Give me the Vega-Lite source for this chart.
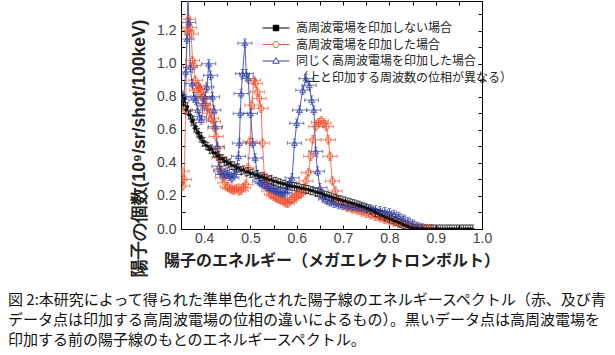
{
"$schema": "https://vega.github.io/schema/vega-lite/v6.json",
"width": 301, "height": 228,
"autosize": {"type": "none"},
"padding": {"left": 181, "top": 1, "right": 133, "bottom": 126},
"config": {"view": {"stroke": "#000", "strokeWidth": 1}, "font": "Liberation Sans"},
"title": {"text": ["図 2:本研究によって得られた準単色化された陽子線のエネルギースペクトル（赤、及び青", "データ点は印加する高周波電場の位相の違いによるもの）。黒いデータ点は高周波電場を", "印加する前の陽子線のもとのエネルギースペクトル。"], "orient": "bottom", "anchor": "start", "frame": "group", "dx": -173, "offset": 16, "font": "Noto Sans CJK JP", "fontSize": 15, "fontWeight": "normal", "color": "#111", "lineHeight": 20, "baseline": "top"},
"data": {"values": [
{"s":"r","x":0.352,"y":0.35},{"s":"r","x":0.354,"y":0.26},{"s":"r","x":0.357,"y":0.30},{"s":"r","x":0.360,"y":0.72},{"s":"r","x":0.363,"y":1.20},{"s":"r","x":0.366,"y":1.27},{"s":"r","x":0.369,"y":1.22},{"s":"r","x":0.372,"y":1.18},{"s":"r","x":0.375,"y":1.02},{"s":"r","x":0.378,"y":0.99},{"s":"r","x":0.381,"y":0.90},{"s":"r","x":0.384,"y":0.84},{"s":"r","x":0.387,"y":0.87},{"s":"r","x":0.390,"y":0.85},{"s":"r","x":0.393,"y":0.83},{"s":"r","x":0.396,"y":0.80},{"s":"r","x":0.400,"y":0.79},{"s":"r","x":0.404,"y":0.75},{"s":"r","x":0.408,"y":0.73},{"s":"r","x":0.412,"y":0.70},{"s":"r","x":0.416,"y":0.67},{"s":"r","x":0.420,"y":0.65},{"s":"r","x":0.423,"y":0.61},{"s":"r","x":0.426,"y":0.56},{"s":"r","x":0.429,"y":0.49},{"s":"r","x":0.432,"y":0.43},{"s":"r","x":0.436,"y":0.36},{"s":"r","x":0.440,"y":0.31},{"s":"r","x":0.445,"y":0.28},{"s":"r","x":0.450,"y":0.255},{"s":"r","x":0.455,"y":0.245},{"s":"r","x":0.460,"y":0.24},{"s":"r","x":0.465,"y":0.235},{"s":"r","x":0.470,"y":0.245},{"s":"r","x":0.475,"y":0.23},{"s":"r","x":0.480,"y":0.235},{"s":"r","x":0.485,"y":0.25},{"s":"r","x":0.490,"y":0.27},{"s":"r","x":0.495,"y":0.37},{"s":"r","x":0.499,"y":0.53},{"s":"r","x":0.503,"y":0.75},{"s":"r","x":0.507,"y":0.90},{"s":"r","x":0.511,"y":0.88},{"s":"r","x":0.515,"y":0.83},{"s":"r","x":0.519,"y":0.79},{"s":"r","x":0.523,"y":0.73},{"s":"r","x":0.526,"y":0.52},{"s":"r","x":0.530,"y":0.32},{"s":"r","x":0.535,"y":0.27},{"s":"r","x":0.540,"y":0.23},{"s":"r","x":0.545,"y":0.21},{"s":"r","x":0.550,"y":0.20},{"s":"r","x":0.555,"y":0.19},{"s":"r","x":0.560,"y":0.185},{"s":"r","x":0.565,"y":0.18},{"s":"r","x":0.570,"y":0.17},{"s":"r","x":0.575,"y":0.16},{"s":"r","x":0.580,"y":0.155},{"s":"r","x":0.585,"y":0.165},{"s":"r","x":0.590,"y":0.18},{"s":"r","x":0.595,"y":0.19},{"s":"r","x":0.600,"y":0.20},{"s":"r","x":0.605,"y":0.21},{"s":"r","x":0.610,"y":0.22},{"s":"r","x":0.615,"y":0.24},{"s":"r","x":0.620,"y":0.29},{"s":"r","x":0.625,"y":0.34},{"s":"r","x":0.630,"y":0.44},{"s":"r","x":0.635,"y":0.54},{"s":"r","x":0.641,"y":0.62},{"s":"r","x":0.647,"y":0.645},{"s":"r","x":0.653,"y":0.655},{"s":"r","x":0.659,"y":0.64},{"s":"r","x":0.664,"y":0.62},{"s":"r","x":0.668,"y":0.54},{"s":"r","x":0.672,"y":0.44},{"s":"r","x":0.677,"y":0.29},{"s":"r","x":0.683,"y":0.23},{"s":"r","x":0.690,"y":0.17},{"s":"r","x":0.700,"y":0.145},{"s":"r","x":0.710,"y":0.13},{"s":"r","x":0.720,"y":0.12},{"s":"r","x":0.730,"y":0.112},{"s":"r","x":0.740,"y":0.104},{"s":"r","x":0.750,"y":0.095},{"s":"r","x":0.760,"y":0.086},{"s":"r","x":0.770,"y":0.077},{"s":"r","x":0.780,"y":0.068},{"s":"r","x":0.790,"y":0.058},{"s":"r","x":0.800,"y":0.05},{"s":"r","x":0.810,"y":0.042},{"s":"r","x":0.820,"y":0.035},{"s":"r","x":0.830,"y":0.028},{"s":"r","x":0.840,"y":0.021},{"s":"r","x":0.850,"y":0.015},{"s":"r","x":0.860,"y":0.01},{"s":"r","x":0.870,"y":0.006},{"s":"r","x":0.880,"y":0.003},{"s":"r","x":0.890,"y":0.001},
{"s":"b","x":0.356,"y":0.80},{"s":"b","x":0.360,"y":0.95},{"s":"b","x":0.363,"y":1.15},{"s":"b","x":0.365,"y":1.45},{"s":"b","x":0.367,"y":1.25},{"s":"b","x":0.370,"y":0.98},{"s":"b","x":0.374,"y":0.88},{"s":"b","x":0.378,"y":0.80},{"s":"b","x":0.382,"y":0.78},{"s":"b","x":0.386,"y":0.72},{"s":"b","x":0.390,"y":0.68},{"s":"b","x":0.394,"y":0.66},{"s":"b","x":0.398,"y":0.76},{"s":"b","x":0.402,"y":0.80},{"s":"b","x":0.406,"y":0.86},{"s":"b","x":0.410,"y":1.00},{"s":"b","x":0.414,"y":0.93},{"s":"b","x":0.418,"y":0.80},{"s":"b","x":0.421,"y":0.72},{"s":"b","x":0.424,"y":0.62},{"s":"b","x":0.428,"y":0.50},{"s":"b","x":0.432,"y":0.38},{"s":"b","x":0.436,"y":0.35},{"s":"b","x":0.440,"y":0.33},{"s":"b","x":0.445,"y":0.34},{"s":"b","x":0.450,"y":0.33},{"s":"b","x":0.455,"y":0.32},{"s":"b","x":0.460,"y":0.31},{"s":"b","x":0.465,"y":0.33},{"s":"b","x":0.470,"y":0.36},{"s":"b","x":0.474,"y":0.44},{"s":"b","x":0.476,"y":0.52},{"s":"b","x":0.478,"y":0.70},{"s":"b","x":0.480,"y":0.82},{"s":"b","x":0.483,"y":0.94},{"s":"b","x":0.488,"y":1.125},{"s":"b","x":0.491,"y":0.94},{"s":"b","x":0.495,"y":0.91},{"s":"b","x":0.500,"y":0.70},{"s":"b","x":0.505,"y":0.52},{"s":"b","x":0.510,"y":0.43},{"s":"b","x":0.515,"y":0.33},{"s":"b","x":0.520,"y":0.29},{"s":"b","x":0.525,"y":0.28},{"s":"b","x":0.530,"y":0.27},{"s":"b","x":0.535,"y":0.26},{"s":"b","x":0.540,"y":0.25},{"s":"b","x":0.545,"y":0.245},{"s":"b","x":0.550,"y":0.24},{"s":"b","x":0.555,"y":0.23},{"s":"b","x":0.560,"y":0.225},{"s":"b","x":0.565,"y":0.22},{"s":"b","x":0.570,"y":0.215},{"s":"b","x":0.575,"y":0.22},{"s":"b","x":0.580,"y":0.25},{"s":"b","x":0.585,"y":0.28},{"s":"b","x":0.590,"y":0.31},{"s":"b","x":0.595,"y":0.52},{"s":"b","x":0.600,"y":0.64},{"s":"b","x":0.606,"y":0.72},{"s":"b","x":0.613,"y":0.84},{"s":"b","x":0.620,"y":0.91},{"s":"b","x":0.627,"y":0.87},{"s":"b","x":0.632,"y":0.78},{"s":"b","x":0.637,"y":0.72},{"s":"b","x":0.641,"y":0.47},{"s":"b","x":0.645,"y":0.35},{"s":"b","x":0.650,"y":0.25},{"s":"b","x":0.656,"y":0.20},{"s":"b","x":0.662,"y":0.18},{"s":"b","x":0.670,"y":0.165},{"s":"b","x":0.680,"y":0.155},{"s":"b","x":0.690,"y":0.148},{"s":"b","x":0.700,"y":0.143},{"s":"b","x":0.710,"y":0.139},{"s":"b","x":0.720,"y":0.135},{"s":"b","x":0.730,"y":0.131},{"s":"b","x":0.740,"y":0.128},{"s":"b","x":0.750,"y":0.125},{"s":"b","x":0.760,"y":0.121},{"s":"b","x":0.770,"y":0.116},{"s":"b","x":0.780,"y":0.111},{"s":"b","x":0.790,"y":0.105},{"s":"b","x":0.800,"y":0.098},{"s":"b","x":0.810,"y":0.088},{"s":"b","x":0.820,"y":0.075},{"s":"b","x":0.830,"y":0.06},{"s":"b","x":0.840,"y":0.045},{"s":"b","x":0.850,"y":0.03},{"s":"b","x":0.860,"y":0.016},{"s":"b","x":0.870,"y":0.006},
{"s":"k","x":0.352,"y":0.81},{"s":"k","x":0.355,"y":0.75},{"s":"k","x":0.358,"y":0.79},{"s":"k","x":0.361,"y":0.72},{"s":"k","x":0.364,"y":0.74},{"s":"k","x":0.367,"y":0.69},{"s":"k","x":0.370,"y":0.69},{"s":"k","x":0.373,"y":0.65},{"s":"k","x":0.376,"y":0.66},{"s":"k","x":0.379,"y":0.61},{"s":"k","x":0.382,"y":0.62},{"s":"k","x":0.385,"y":0.58},{"s":"k","x":0.388,"y":0.585},{"s":"k","x":0.391,"y":0.55},{"s":"k","x":0.394,"y":0.56},{"s":"k","x":0.397,"y":0.525},{"s":"k","x":0.400,"y":0.53},{"s":"k","x":0.404,"y":0.505},{"s":"k","x":0.408,"y":0.50},{"s":"k","x":0.412,"y":0.48},{"s":"k","x":0.416,"y":0.485},{"s":"k","x":0.420,"y":0.46},{"s":"k","x":0.424,"y":0.46},{"s":"k","x":0.428,"y":0.44},{"s":"k","x":0.432,"y":0.445},{"s":"k","x":0.436,"y":0.425},{"s":"k","x":0.440,"y":0.425},{"s":"k","x":0.444,"y":0.41},{"s":"k","x":0.448,"y":0.41},{"s":"k","x":0.452,"y":0.395},{"s":"k","x":0.456,"y":0.40},{"s":"k","x":0.460,"y":0.385},{"s":"k","x":0.465,"y":0.382},{"s":"k","x":0.470,"y":0.37},{"s":"k","x":0.475,"y":0.37},{"s":"k","x":0.480,"y":0.355},{"s":"k","x":0.485,"y":0.358},{"s":"k","x":0.490,"y":0.345},{"s":"k","x":0.495,"y":0.347},{"s":"k","x":0.500,"y":0.336},{"s":"k","x":0.505,"y":0.338},{"s":"k","x":0.510,"y":0.326},{"s":"k","x":0.515,"y":0.327},{"s":"k","x":0.520,"y":0.316},{"s":"k","x":0.525,"y":0.317},{"s":"k","x":0.530,"y":0.307},{"s":"k","x":0.535,"y":0.308},{"s":"k","x":0.540,"y":0.298},{"s":"k","x":0.545,"y":0.298},{"s":"k","x":0.550,"y":0.288},{"s":"k","x":0.555,"y":0.289},{"s":"k","x":0.560,"y":0.28},{"s":"k","x":0.565,"y":0.279},{"s":"k","x":0.570,"y":0.272},{"s":"k","x":0.575,"y":0.271},{"s":"k","x":0.580,"y":0.263},{"s":"k","x":0.585,"y":0.264},{"s":"k","x":0.590,"y":0.258},{"s":"k","x":0.595,"y":0.258},{"s":"k","x":0.600,"y":0.253},{"s":"k","x":0.605,"y":0.252},{"s":"k","x":0.610,"y":0.246},{"s":"k","x":0.615,"y":0.246},{"s":"k","x":0.620,"y":0.24},{"s":"k","x":0.625,"y":0.239},{"s":"k","x":0.630,"y":0.232},{"s":"k","x":0.635,"y":0.231},{"s":"k","x":0.640,"y":0.224},{"s":"k","x":0.645,"y":0.222},{"s":"k","x":0.650,"y":0.216},{"s":"k","x":0.655,"y":0.214},{"s":"k","x":0.660,"y":0.206},{"s":"k","x":0.665,"y":0.204},{"s":"k","x":0.670,"y":0.197},{"s":"k","x":0.675,"y":0.194},{"s":"k","x":0.680,"y":0.188},{"s":"k","x":0.685,"y":0.186},{"s":"k","x":0.690,"y":0.179},{"s":"k","x":0.695,"y":0.177},{"s":"k","x":0.700,"y":0.171},{"s":"k","x":0.705,"y":0.169},{"s":"k","x":0.710,"y":0.163},{"s":"k","x":0.715,"y":0.161},{"s":"k","x":0.720,"y":0.155},{"s":"k","x":0.725,"y":0.152},{"s":"k","x":0.730,"y":0.146},{"s":"k","x":0.735,"y":0.144},{"s":"k","x":0.740,"y":0.138},{"s":"k","x":0.745,"y":0.134},{"s":"k","x":0.750,"y":0.127},{"s":"k","x":0.755,"y":0.122},{"s":"k","x":0.760,"y":0.114},{"s":"k","x":0.765,"y":0.109},{"s":"k","x":0.770,"y":0.1},{"s":"k","x":0.775,"y":0.094},{"s":"k","x":0.780,"y":0.085},{"s":"k","x":0.785,"y":0.08},{"s":"k","x":0.790,"y":0.072},{"s":"k","x":0.795,"y":0.068},{"s":"k","x":0.800,"y":0.061},{"s":"k","x":0.805,"y":0.057},{"s":"k","x":0.810,"y":0.049},{"s":"k","x":0.815,"y":0.046},{"s":"k","x":0.820,"y":0.039},{"s":"k","x":0.825,"y":0.034},{"s":"k","x":0.830,"y":0.025},{"s":"k","x":0.835,"y":0.02},{"s":"k","x":0.840,"y":0.013},{"s":"k","x":0.845,"y":0.009},{"s":"k","x":0.850,"y":0.005},{"s":"k","x":0.855,"y":0.003},{"s":"k","x":0.860,"y":0.001},{"s":"k","x":0.865,"y":0},{"s":"k","x":0.870,"y":0},{"s":"k","x":0.875,"y":0},{"s":"k","x":0.880,"y":0},{"s":"k","x":0.885,"y":0},{"s":"k","x":0.890,"y":0},{"s":"k","x":0.895,"y":0},{"s":"k","x":0.900,"y":0},{"s":"k","x":0.905,"y":0},{"s":"k","x":0.910,"y":0},{"s":"k","x":0.915,"y":0},{"s":"k","x":0.920,"y":0},{"s":"k","x":0.925,"y":0},{"s":"k","x":0.930,"y":0},{"s":"k","x":0.935,"y":0},{"s":"k","x":0.940,"y":0},{"s":"k","x":0.945,"y":0},{"s":"k","x":0.950,"y":0},{"s":"k","x":0.955,"y":0},{"s":"k","x":0.960,"y":0},{"s":"k","x":0.965,"y":0},{"s":"k","x":0.970,"y":0},{"s":"k","x":0.975,"y":0},{"s":"k","x":0.980,"y":0}
]},
"layer": [
{"mark": {"type": "line", "strokeWidth": 1, "clip": true},
 "encoding": {
  "x": {"field": "x", "type": "quantitative", "scale": {"domain": [0.35, 1.0], "nice": false, "zero": false},
   "axis": {"orient": "bottom", "values": [0.35,0.4,0.45,0.5,0.55,0.6,0.65,0.7,0.75,0.8,0.85,0.9,0.95,1.0], "labelExpr": "round(datum.value*20) % 2 == 0 ? format(datum.value, '.1f') : ''", "tickSize": -4, "tickColor": "#000", "domain": false, "grid": false, "labelFont": "Liberation Sans", "labelFontSize": 14, "labelColor": "#444", "labelPadding": 6, "labelFlush": false, "labelOverlap": false, "title": "陽子のエネルギー（メガエレクトロンボルト）", "titleFont": "Noto Sans CJK JP", "titleFontSize": 16, "titleFontWeight": "bold", "titleColor": "#222", "titlePadding": 7}},
  "y": {"field": "y", "type": "quantitative", "scale": {"domain": [0, 1.38], "nice": false},
   "axis": {"orient": "left", "values": [0,0.1,0.2,0.3,0.4,0.5,0.6,0.7,0.8,0.9,1.0,1.1,1.2,1.3], "labelExpr": "round(datum.value*10) % 2 == 0 ? format(datum.value, '.1f') : ''", "tickSize": -4, "tickColor": "#000", "domain": false, "grid": false, "labelFont": "Liberation Sans", "labelFontSize": 14, "labelColor": "#444", "labelPadding": 9, "labelOverlap": false, "title": "陽子の個数(10⁹/sr/shot/100keV)", "titleFont": "Liberation Sans", "titleFontSize": 17.5, "titleFontWeight": "bold", "titleColor": "#222", "titleX": -42, "titleY": 147, "titleAlign": "center", "titleBaseline": "middle"}},
  "color": {"field": "s", "type": "nominal", "scale": {"domain": ["k","r","b"], "range": ["#000000", "#f2795c", "#5460b4"]}, "legend": null}
 }},
{"mark": {"type": "point", "clip": true, "filled": false, "size": 196, "strokeWidth": 1},
 "encoding": {
  "x": {"field": "x", "type": "quantitative", "axis": {"orient": "top", "values": [0.35,0.4,0.45,0.5,0.55,0.6,0.65,0.7,0.75,0.8,0.85,0.9,0.95,1.0], "labels": false, "tickSize": -4, "tickColor": "#000", "domain": false, "grid": false, "title": null}},
  "y": {"field": "y", "type": "quantitative", "axis": {"orient": "right", "values": [0,0.1,0.2,0.3,0.4,0.5,0.6,0.7,0.8,0.9,1.0,1.1,1.2,1.3], "labels": false, "tickSize": -4, "tickColor": "#000", "domain": false, "grid": false, "title": null}},
  "stroke": {"field": "s", "type": "nominal", "scale": {"domain": ["k","r","b"], "range": ["#000000", "#ec5533", "#3444a6"]}, "legend": null},
  "shape": {"field": "s", "type": "nominal", "scale": {"domain": ["k","r","b"], "range": ["M-0.3,0H0.3M0,-0.57V0.57M-0.2,-0.57H0.2M-0.2,0.57H0.2", "M-1,0H1M-1,-0.25V0.25M1,-0.25V0.25M0,-0.6V0.6M-0.25,-0.6H0.25M-0.25,0.6H0.25", "M-1,0H1M-1,-0.25V0.25M1,-0.25V0.25M0,-0.6V0.6M-0.25,-0.6H0.25M-0.25,0.6H0.25"]}, "legend": null}
 }},
{"transform": [{"filter": "datum.s != 'k'"}],
 "mark": {"type": "point", "clip": true, "filled": false, "size": 30, "strokeWidth": 1.2},
 "encoding": {
  "x": {"field": "x", "type": "quantitative", "axis": null},
  "y": {"field": "y", "type": "quantitative", "axis": null},
  "color": {"field": "s", "type": "nominal", "scale": {"domain": ["r","b"], "range": ["#ec5533", "#3444a6"]}, "legend": null},
  "shape": {"field": "s", "type": "nominal", "scale": {"domain": ["r","b"], "range": ["circle", "triangle-up"]}, "legend": null}
 }},
{"transform": [{"filter": "datum.s == 'k'"}],
 "mark": {"type": "square", "clip": true, "filled": true, "size": 9, "color": "#000"},
 "encoding": {
  "x": {"field": "x", "type": "quantitative", "axis": null},
  "y": {"field": "y", "type": "quantitative", "axis": null}
 }},
{"transform": [{"filter": "false"}],
 "mark": {"type": "point", "filled": false, "strokeWidth": 1, "opacity": 1},
 "encoding": {
  "x": {"field": "x", "type": "quantitative", "axis": null},
  "y": {"field": "y", "type": "quantitative", "axis": null},
  "stroke": {"field": "s", "type": "nominal", "scale": {"domain": ["k","r","b","n"], "range": ["#000000", "#ec5533", "#3444a6", "rgba(0,0,0,0)"]},
   "legend": {"orient": "none", "legendX": 89, "legendY": 21, "title": null, "padding": 0, "labelExpr": "datum.value == 'k' ? '高周波電場を印加しない場合' : datum.value == 'r' ? '高周波電場を印加した場合' : datum.value == 'b' ? '同じく高周波電場を印加した場合' : '  （上と印加する周波数の位相が異なる）'", "labelFont": "Noto Sans CJK JP", "labelFontSize": 12, "labelColor": "#222", "labelLimit": 400, "labelOffset": 14, "rowPadding": 4.5, "symbolSize": 100, "symbolStrokeWidth": 1, "symbolOpacity": 1}},
  "shape": {"field": "s", "type": "nominal", "scale": {"domain": ["k","r","b","n"], "range": ["M-2.7,0H2.7M-0.55,-0.55H0.55V0.55H-0.55Z", "M-2.7,0H-0.6M0.6,0H2.7M-0.6,0A0.6,0.6 0 1,0 0.6,0A0.6,0.6 0 1,0 -0.6,0", "M-2.7,0H-0.4M0.4,0H2.7M0,-0.65L0.65,0.45H-0.65Z", "M0,0"]},
   "legend": {"orient": "none", "legendX": 89, "legendY": 21, "title": null, "padding": 0, "labelExpr": "datum.value == 'k' ? '高周波電場を印加しない場合' : datum.value == 'r' ? '高周波電場を印加した場合' : datum.value == 'b' ? '同じく高周波電場を印加した場合' : '  （上と印加する周波数の位相が異なる）'", "labelFont": "Noto Sans CJK JP", "labelFontSize": 12, "labelColor": "#222", "labelLimit": 400, "labelOffset": 14, "rowPadding": 4.5, "symbolSize": 100, "symbolStrokeWidth": 1, "symbolOpacity": 1}},
  "fill": {"field": "s", "type": "nominal", "scale": {"domain": ["k","r","b","n"], "range": ["#000000", "rgba(0,0,0,0)", "rgba(0,0,0,0)", "rgba(0,0,0,0)"]},
   "legend": {"orient": "none", "legendX": 89, "legendY": 21, "title": null, "padding": 0, "labelExpr": "datum.value == 'k' ? '高周波電場を印加しない場合' : datum.value == 'r' ? '高周波電場を印加した場合' : datum.value == 'b' ? '同じく高周波電場を印加した場合' : '  （上と印加する周波数の位相が異なる）'", "labelFont": "Noto Sans CJK JP", "labelFontSize": 12, "labelColor": "#222", "labelLimit": 400, "labelOffset": 14, "rowPadding": 4.5, "symbolSize": 100, "symbolStrokeWidth": 1, "symbolOpacity": 1}}
 }}
],
"resolve": {"axis": {"x": "independent", "y": "independent"}, "scale": {"shape": "independent", "color": "independent", "stroke": "independent", "fill": "independent"}}
}
